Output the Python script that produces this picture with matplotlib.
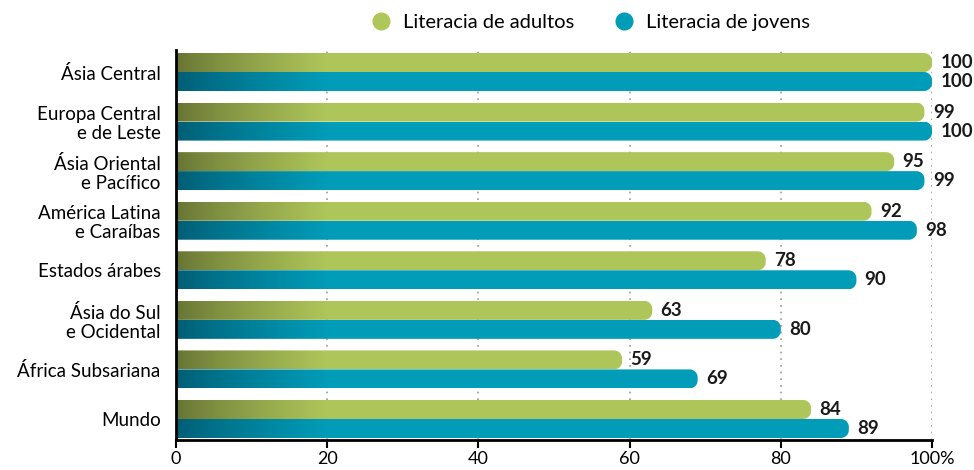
import numpy as np
import matplotlib.pyplot as plt
from matplotlib.patches import Polygon
from matplotlib.lines import Line2D

plt.rcParams['font.family'] = ['Lato', 'DejaVu Sans']

regioes = ['Ásia Central', 'Europa Central\ne de Leste', 'Ásia Oriental\ne Pacífico',
           'América Latina\ne Caraíbas', 'Estados árabes', 'Ásia do Sul\ne Ocidental',
           'África Subsariana', 'Mundo']
adultos = [100, 99, 95, 92, 78, 63, 59, 84]
jovens = [100, 100, 99, 98, 90, 80, 69, 89]
ticks = [0, 20, 40, 60, 80, 100]
tick_labels = ['0', '20', '40', '60', '80', '100%']

verde = np.array([0.686, 0.776, 0.353])
verde_esc = np.array([0.40, 0.45, 0.20])
azul = np.array([0.0, 0.612, 0.722])
azul_esc = np.array([0.0, 0.36, 0.45])

W, H = 974, 470
fig = plt.figure(figsize=(W/100, H/100), dpi=100)
ax = fig.add_axes([176/W, 1-440/H, (932-176)/W, (440-50)/H])
ax.set_xlim(0, 100)
ax.set_ylim(7.424, -0.444)

sx = (932-176)/100.0          # px per x unit
sy = (440-50)/(7.424+0.444)   # px per y unit
h = 19/sy                     # bar height

def bar_path(v, y0, y1, r_px=8):
    rx = r_px/sx
    ry = r_px/sy
    pts = [(0, y0), (v-rx, y0)]
    t = np.linspace(-np.pi/2, 0, 12)
    pts += [(v-rx+rx*np.cos(a), y0+ry+ry*np.sin(a)) for a in t]
    t = np.linspace(0, np.pi/2, 12)
    pts += [(v-rx+rx*np.cos(a), y1-ry+ry*np.sin(a)) for a in t]
    pts += [(0, y1)]
    return pts

def grad_img(c_dark, c_full):
    xs = np.linspace(0, 100, 400)
    f = np.clip(xs/20.0, 0, 1)**0.8
    img = c_dark[None, :]*(1-f[:, None]) + c_full[None, :]*f[:, None]
    return img[None, :, :]

img_v = grad_img(verde_esc, verde)
img_a = grad_img(azul_esc, azul)

for i in range(len(regioes)):
    for v, y0, img in [(adultos[i], i-h, img_v), (jovens[i], i, img_a)]:
        poly = Polygon(bar_path(v, y0, y0+h), closed=True, facecolor='none', edgecolor='none')
        ax.add_patch(poly)
        im = ax.imshow(img, extent=(0, 100, y0+h, y0), aspect='auto', zorder=2,
                       interpolation='bilinear')
        im.set_clip_path(poly)
        ax.text(v+1.1, y0+h/2, str(v), va='center', ha='left', fontsize=13.5,
                fontweight='bold', color='#1a1a1a', zorder=3)

ax.set_ylim(7.424, -0.444)
for t in ticks[1:]:
    ax.axvline(t, color='#999999', linestyle=(0, (1, 3)), linewidth=1.2, zorder=0)

ax.set_yticks(range(len(regioes)))
ax.set_yticklabels(regioes, fontsize=13.5, linespacing=1.15)
ax.tick_params(axis='y', length=0, pad=11)
ax.set_xticks(ticks)
ax.set_xticklabels(tick_labels, fontsize=13)
ax.tick_params(axis='x', direction='out', length=6, width=1.5, pad=2)
for s in ['top', 'right']:
    ax.spines[s].set_visible(False)
ax.spines['left'].set_linewidth(2)
ax.spines['bottom'].set_linewidth(2)

handles = [Line2D([], [], marker='o', linestyle='', markersize=12, color=verde, label='Literacia de adultos'),
           Line2D([], [], marker='o', linestyle='', markersize=12, color=azul, label='Literacia de jovens')]
fig.legend(handles=handles, loc='center', bbox_to_anchor=(0.601, 1-22/H), ncol=2, frameon=False,
           fontsize=14.5, handletextpad=0.1, columnspacing=1.45)

fig.savefig('out.png', dpi=100)
